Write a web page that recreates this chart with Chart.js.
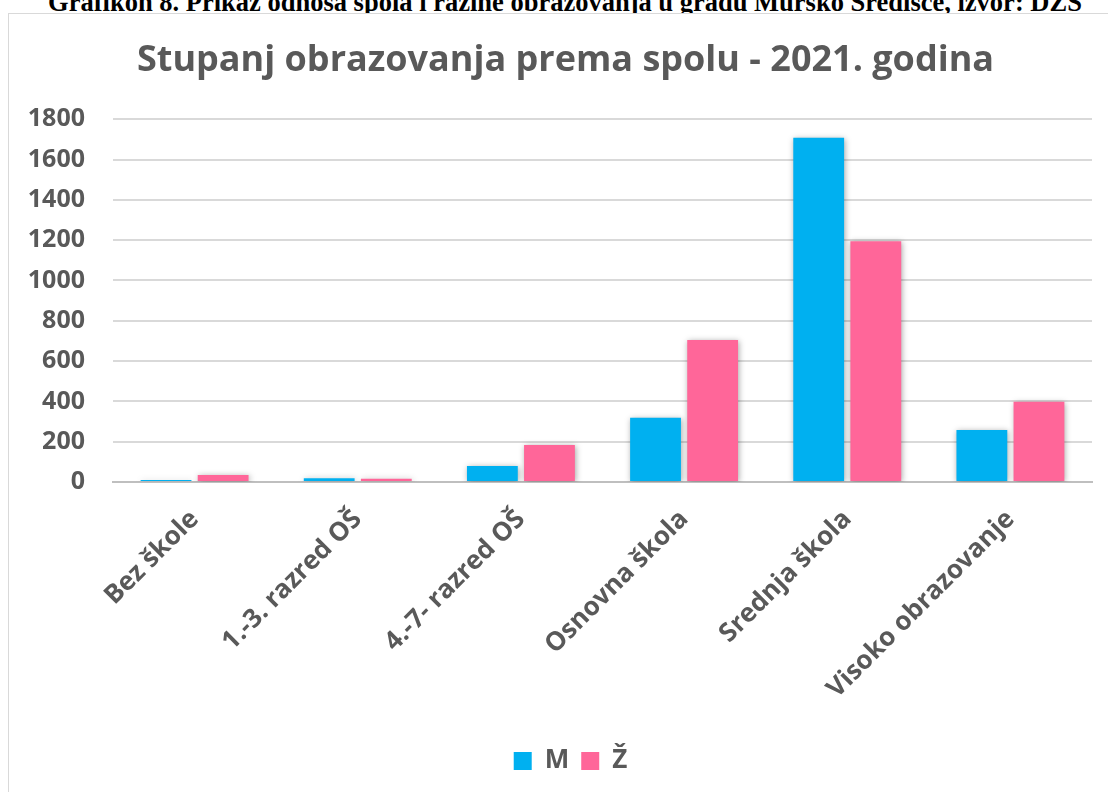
<!DOCTYPE html>
<html><head><meta charset="utf-8">
<script src="https://cdn.jsdelivr.net/npm/chart.js@4/dist/chart.umd.min.js"></script>
<style>
html,body{margin:0;padding:0;background:#fff;width:1108px;height:792px;overflow:hidden;}
#cap{position:absolute;left:11px;top:-11px;width:1108px;text-align:center;font:bold 26.5px/26px "Liberation Serif","Times New Roman",serif;color:#000;white-space:nowrap;}
#box{position:absolute;left:8px;top:13px;width:1120px;height:800px;border:1.5px solid #d9d9d9;background:#fff;}
#wrap{position:absolute;left:9px;top:14px;width:1099px;height:778px;}
</style></head><body>
<div id="cap">Grafikon 8. Prikaz odnosa spola i razine obrazovanja u gradu Mursko Središće, izvor: DZS</div>
<div id="box"></div>
<div id="wrap"><canvas id="c"></canvas></div>
<script>
const categories = ["Bez škole", "1.-3. razred OŠ", "4.-7- razred OŠ", "Osnovna škola", "Srednja škola", "Visoko obrazovanje"];
const seriesM = [10, 18, 79, 319, 1708, 258];
const seriesZ = [35, 16, 183, 704, 1195, 398];
const yTicks = [0, 200, 400, 600, 800, 1000, 1200, 1400, 1600, 1800];

const shadow = {
  id: 'shadow',
  beforeDatasetsDraw(chart) { const c = chart.ctx; c.save(); c.shadowColor = 'rgba(0,0,0,0.35)'; c.shadowBlur = 6; c.shadowOffsetX = 1; c.shadowOffsetY = 1; },
  afterDatasetsDraw(chart) { chart.ctx.restore(); }
};
const shiftBoxes = {
  id: 'shiftBoxes',
  afterLayout(chart) {
    if (chart.titleBlock) { chart.titleBlock.left += 15; chart.titleBlock.right += 15; }
    if (chart.legend) { chart.legend.left += 20; chart.legend.right += 20; }
  }
};

new Chart(document.getElementById('c'), {
  type: 'bar',
  data: {
    labels: categories,
    datasets: [
      { label: 'M', data: seriesM, backgroundColor: '#00B0F0', categoryPercentage: 0.70, barPercentage: 0.89 },
      { label: 'Ž', data: seriesZ, backgroundColor: '#FF6699', categoryPercentage: 0.70, barPercentage: 0.89 }
    ]
  },
  options: {
    responsive: true, maintainAspectRatio: false, animation: false,
    layout: { padding: { left: 0, right: 16, top: 0, bottom: 8 } },
    plugins: {
      title: { display: true, text: 'Stupanj obrazovanja prema spolu - 2021. godina', color: '#595959',
        font: { family: '"Open Sans", sans-serif', size: 36, weight: 'bold', lineHeight: 1.2 }, padding: { top: 25, bottom: 37 } },
      legend: { position: 'bottom', labels: { color: '#595959', boxWidth: 18, boxHeight: 18, padding: 12,
        font: { family: '"Open Sans", sans-serif', size: 26, weight: 'bold' } } },
      tooltip: { enabled: false }
    },
    scales: {
      x: {
        grid: { display: false, drawTicks: false },
        border: { color: '#bfbfbf', width: 2 },
        afterFit(axis) { axis.height = 254; },
        ticks: { color: '#595959', maxRotation: 45, minRotation: 45, padding: 22, autoSkip: false,
          font: { family: '"Open Sans", sans-serif', size: 26, weight: 'bold' } }
      },
      y: {
        min: 0, max: 1800,
        afterBuildTicks(axis) { axis.ticks = yTicks.map(v => ({ value: v })); },
        afterFit(axis) { axis.width = 104; },
        grid: { color: '#d9d9d9', lineWidth: 2, drawTicks: false },
        border: { display: false },
        ticks: { color: '#595959', padding: 28, callback: v => String(v),
          font: { family: '"Open Sans", sans-serif', size: 25, weight: 'bold' } }
      }
    }
  },
  plugins: [shadow, shiftBoxes]
});
</script>
</body></html>
